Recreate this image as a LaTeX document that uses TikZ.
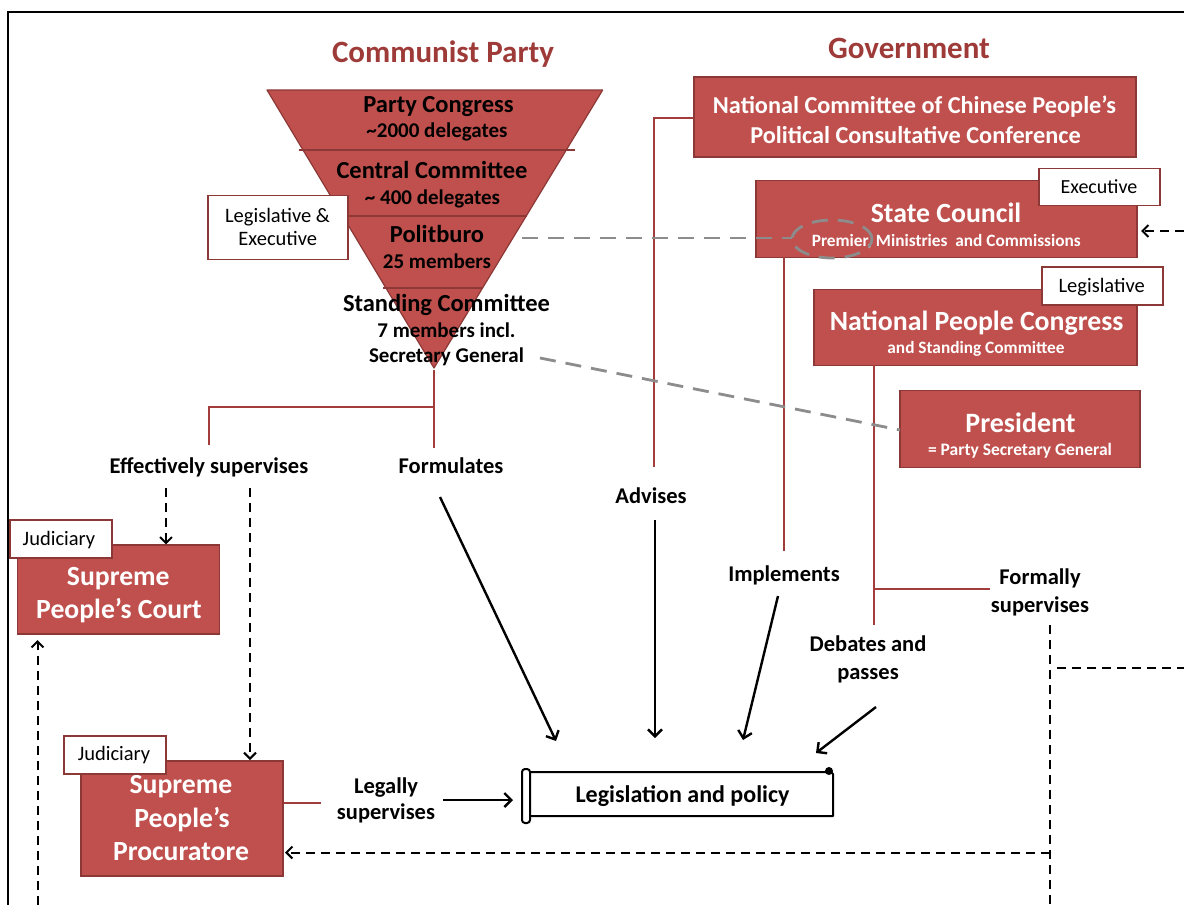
\documentclass[tikz,border=0pt]{standalone}
\usepackage{fontspec}
\setmainfont{Carlito}
\usetikzlibrary{arrows.meta}
\definecolor{boxred}{HTML}{C0504D}
\definecolor{edgered}{HTML}{8C3836}
\definecolor{linered}{HTML}{A33D3B}
\definecolor{titlered}{HTML}{9E3B39}
\definecolor{dashgray}{HTML}{8C8C8C}
\newcommand{\fs}[1]{\fontsize{#1}{#1}\selectfont}
\begin{document}
\begin{tikzpicture}[x=1pt,y=-1pt,
  box/.style={draw=edgered, fill=boxred, line width=1.5pt, inner sep=0pt},
  lab/.style={draw=edgered, fill=white, line width=1.5pt, inner sep=0pt},
  t/.style={anchor=base, inner sep=0pt},
  wb/.style={t, text=white, font=\bfseries\fs{#1}},
  bk/.style={t, font=\bfseries\fs{#1}},
  rg/.style={t, font=\fs{#1}},
  arr/.style={line width=2.4pt, -{Straight Barb[length=7pt,width=14pt,line width=2.4pt]}},
  darr/.style={line width=2pt, dash pattern=on 9pt off 6pt, -{Straight Barb[length=6pt,width=12pt,line width=2pt]}},
  dline/.style={line width=2pt, dash pattern=on 9pt off 6pt},
  gdash/.style={draw=dashgray, line width=2.8pt, dash pattern=on 16pt off 10pt},
  redline/.style={draw=linered, line width=2.4pt}]
\useasboundingbox[fill=white] (0,0) rectangle (1184,905);
% frame
\draw[line width=2pt] (8,905) -- (8,12) -- (1184,12);

% titles
\node[bk=31, text=titlered] (cp) at (443,62) {Communist Party};
\node[bk=31, text=titlered] (gov) at (909,58) {Government};

% party triangle
\fill[boxred] (267,90) -- (602.7,90) -- (434,368) -- cycle;
\draw[edgered, line width=1.2pt, line join=round] (267,90) -- (602.7,90) -- (434,368) -- cycle;
\draw[edgered, line width=2pt] (299,150) -- (575,150);
\draw[edgered, line width=2pt] (343,216) -- (527,216);
\draw[edgered, line width=2pt] (383,288) -- (483,288);
\node[bk=24.5] (pc1) at (438.5,112.5) {Party Congress};
\node[bk=21] (pc2) at (437,137.5) {\textasciitilde 2000 delegates};
\node[bk=24.5] (cc1) at (432,178.5) {Central Committee};
\node[bk=21] (cc2) at (432.5,204.5) {\textasciitilde\ 400 delegates};
\node[bk=24.5] (pb1) at (437,242.5) {Politburo};
\node[bk=21] (pb2) at (437,268.5) {25 members};
\node[bk=24.5] (st1) at (446.5,311.5) {Standing Committee};
\node[bk=21] (st2) at (446.5,337.5) {7 members incl.};
\node[bk=21] (st3) at (446.5,362.5) {Secretary General};
\coordinate (apex) at (434,370);

% Legislative & Executive label
\node[lab, minimum width=140, minimum height=64] (le) at (278,227.5) {};
\node[rg=20.5] (le1) at (277.5,222.5) {Legislative \&};
\node[rg=20.5] (le2) at (277.8,245.5) {Executive};

% government boxes
\node[box, minimum width=442, minimum height=80] (ncc) at (915,117) {};
\node[wb=24.3] (ncc1) at (914.5,113.5) {National Committee of Chinese People's};
\node[wb=24.3] (ncc2) at (915.5,143.5) {Political Consultative Conference};

\node[box, minimum width=381, minimum height=77] (sc) at (946.5,219) {};
\node[wb=27.8] (sc1) at (946,222.5) {State Council};
\node[wb=17.3] (sc2) at (946.3,246.5) {Premier, Ministries\ \ and Commissions};
\node[lab, minimum width=121, minimum height=37] (exl) at (1099.5,187) {};
\node[rg=20] (exl1) at (1099,193.5) {Executive};

\node[box, minimum width=323, minimum height=76] (npc) at (975.5,327.5) {};
\node[wb=27.8] (npc1) at (976.7,330.5) {National People Congress};
\node[wb=17.3] (npc2) at (976,353.5) {and Standing Committee};
\node[lab, minimum width=121, minimum height=38] (lgl) at (1102.5,286) {};
\node[rg=20.5] (lgl1) at (1101.7,292.5) {Legislative};

\node[box, minimum width=240, minimum height=77] (pres) at (1020,429) {};
\node[wb=28] (pres1) at (1020.5,432.5) {President};
\node[wb=17.5] (pres2) at (1020,455.5) {= Party Secretary General};

% judiciary boxes
\node[box, minimum width=202, minimum height=89] (spc) at (118.7,589.7) {};
\node[wb=27.7] (spc1) at (118.3,585.5) {Supreme};
\node[wb=27.7] (spc2) at (119,618.5) {People’s Court};
\node[lab, minimum width=102, minimum height=38] (jud1) at (60.8,539) {};
\node[rg=20.5] (jud1t) at (59,545.5) {Judiciary};

\node[box, minimum width=202, minimum height=115] (spp) at (182.2,818.3) {};
\node[wb=27.7] (spp1) at (181,793.5) {Supreme};
\node[wb=27.7] (spp2) at (182,827) {People’s};
\node[wb=27.7] (spp3) at (181,860.5) {Procuratore};
\node[lab, minimum width=102, minimum height=38] (jud2) at (115,755) {};
\node[rg=20.5] (jud2t) at (114,760.5) {Judiciary};

% legislation scroll
\node[minimum width=311, minimum height=50, inner sep=0] (lp) at (679,796) {};
\draw[line width=2pt, line join=round] (526,772) -- (831,772) -- (833,774) -- (833,816) -- (530,816);
\draw[line width=2pt, fill=white, rounded corners=3pt] (522,769) rectangle (530,823);
\fill (829,771) circle[radius=4pt];
\node[bk=24] (lpt) at (682.5,802) {Legislation and policy};

% connector labels
\node[bk=22.5] (effs) at (209,473.5) {Effectively supervises};
\node[bk=22.5] (form) at (451,473.5) {Formulates};
\node[bk=22.5] (adv) at (651,503.5) {Advises};
\node[bk=22.5] (impl) at (784,581.5) {Implements};
\node[bk=22.5] (fs1) at (1040,584.5) {Formally};
\node[bk=22.5] (fs2) at (1040,612.5) {supervises};
\node[bk=22.5] (dp1) at (868,651.5) {Debates and};
\node[bk=22.5] (dp2) at (868,679.5) {passes};
\node[bk=22.5] (ls1) at (386,793.5) {Legally};
\node[bk=22.5] (ls2) at (386,819.5) {supervises};

% red connector lines
\draw[redline] (apex) -- (434,448);
\draw[redline] (434,407) -- (209,407) -- (209,445);
\draw[redline] (ncc.west |- 0,118) -- (654,118) -- (654,467);
\draw[redline] (784,257) -- (784,551);
\draw[redline] (874,365) -- (874,625);
\draw[redline] (874,589) -- (990,589);
\draw[redline] (spp.east |- 0,803) -- (321,803);

% solid arrows to legislation
\draw[arr] (440,497) -- (556,741);
\draw[arr] (655,520) -- (655,738);
\draw[arr] (778,596) -- (743,740);
\draw[arr] (876,707) -- (816,753);
\draw[arr] (443,800) -- (513,800);

% dashed black connectors
\draw[darr] (166,488) -- (spc.north -| 166,0);
\draw[darr] (250,488) -- (spp.north -| 250,0);
\draw[darr] (37.5,905) -- (37.5,640);
\draw[darr] (1184,231) -- (1141,231);
\draw[dline] (1050,625) -- (1050,905);
\draw[dline] (1057,668) -- (1184,668);
\draw[darr] (1050,852.5) -- (285,852.5);

% gray dashed links
\draw[gdash] (522,238) -- (792,238);
\draw[gdash] (832,239) ellipse [x radius=40pt, y radius=19pt];
\draw[gdash] (540,358) -- (900,430);
\end{tikzpicture}
\end{document}
